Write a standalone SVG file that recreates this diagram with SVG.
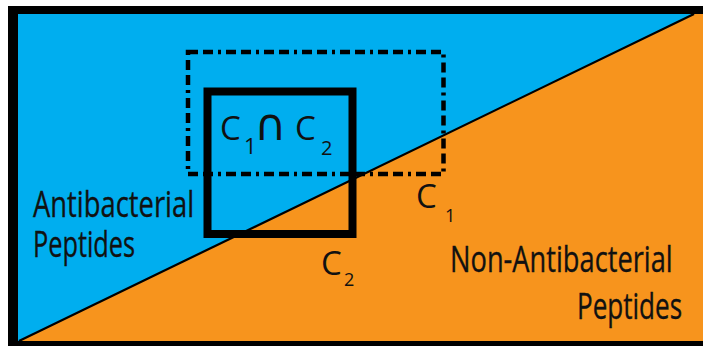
<svg xmlns="http://www.w3.org/2000/svg" width="703" height="346" viewBox="0 0 703 346">
<style>
.t{font-family:"Open Sans","Liberation Sans",sans-serif;fill:#111;}
.big{font-size:36px;stroke:#111;stroke-width:0.35;}
.c{font-size:33px;}
.s{font-size:18px;}
</style>
<rect x="0" y="0" width="703" height="346" fill="#fff"/>
<g id="frame">
<rect x="8" y="6" width="695" height="340" fill="#000"/>
<polygon points="18,14 693,14 20,341 18,341" fill="#00aeef"/>
<polygon points="693,14 703,14 703,341 20,341" fill="#f7941d"/>
</g>
<g id="connectors">
<line x1="694" y1="14" x2="19" y2="341" stroke="#000" stroke-width="2.2"/>
</g>
<g id="C1">
<rect x="188" y="52" width="255.5" height="122" fill="none" stroke="#000" stroke-width="4.5" stroke-dasharray="10 5 10 5 3 5"/>
<text class="t c" x="416" y="208">C</text>
<text class="t s" x="445" y="222">1</text>
</g>
<g id="C2">
<rect x="207.5" y="91.5" width="145" height="142.5" fill="none" stroke="#000" stroke-width="8"/>
<text class="t c" x="321" y="275">C</text>
<text class="t s" x="344" y="286">2</text>
</g>
<g id="intersection">
<text class="t c" x="220" y="140">C</text>
<text class="t" font-size="22" x="244" y="154">1</text>
<text font-family="DejaVu Sans, sans-serif" font-size="44" fill="#111" x="270" y="140" text-anchor="middle">∩</text>
<text class="t c" x="295" y="140">C</text>
<text class="t" font-size="20" x="321" y="155">2</text>
</g>
<g id="antibacterial">
<text class="t big" transform="translate(33,217) scale(0.76,1)" textLength="212" lengthAdjust="spacingAndGlyphs">Antibacterial</text>
<text class="t big" transform="translate(33,257) scale(0.74,1)" textLength="138" lengthAdjust="spacingAndGlyphs">Peptides</text>
</g>
<g id="non-antibacterial">
<text class="t big" transform="translate(450,272) scale(0.76,1)" textLength="293" lengthAdjust="spacingAndGlyphs">Non-Antibacterial</text>
<text class="t big" transform="translate(577,319) scale(0.74,1)" textLength="142" lengthAdjust="spacingAndGlyphs">Peptides</text>
</g>
</svg>
